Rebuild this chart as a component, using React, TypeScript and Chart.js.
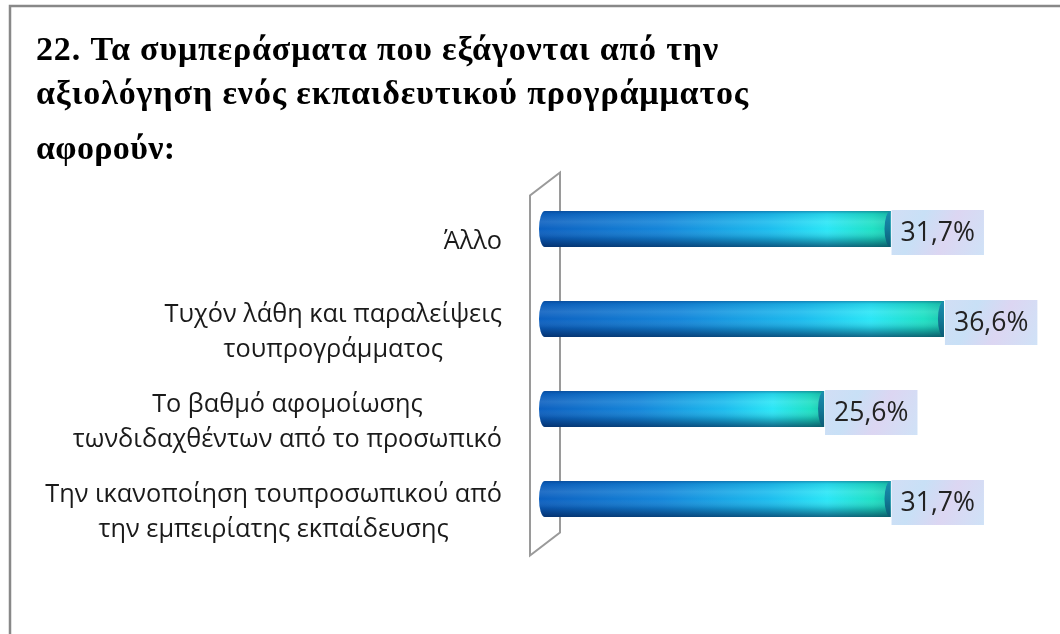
import React, { useEffect, useRef } from 'react';
import { Chart, registerables } from 'chart.js';

Chart.register(...registerables);

const TITLE_LINES = [
  '22. Τα συμπεράσματα που εξάγονται από την',
  'αξιολόγηση ενός εκπαιδευτικού προγράμματος',
  'αφορούν:',
];
const CATEGORIES = [
  ['Άλλο'],
  ['Τυχόν λάθη και παραλείψεις', 'τουπρογράμματος'],
  ['Το βαθμό αφομοίωσης', 'τωνδιδαχθέντων από το προσωπικό'],
  ['Την ικανοποίηση τουπροσωπικού από', 'την εμπειρίατης εκπαίδευσης'],
];
const VALUES = [31.7, 36.6, 25.6, 31.7];
const X_MAX = 40;

const fmt = (v: number) => v.toFixed(1).replace('.', ',') + '%';

const LABEL_FONT = '"Open Sans", "Noto Sans", sans-serif';
const TITLE_FONT = '"Liberation Serif", "DejaVu Serif", serif';

function fitText(ctx: CanvasRenderingContext2D, text: string, x: number, y: number, target: number) {
  (ctx as any).letterSpacing = '0px';
  const w = ctx.measureText(text).width;
  const n = Array.from(text).length;
  const ls = n > 1 ? (target - w) / (n - 1) : 0;
  (ctx as any).letterSpacing = ls.toFixed(2) + 'px';
  ctx.fillText(text, x, y);
  (ctx as any).letterSpacing = '0px';
}

function drawCylinder(ctx: CanvasRenderingContext2D, x0: number, x1: number, yc: number, h: number) {
  const top = yc - h / 2;
  const bot = yc + h / 2;
  const rx = 6;
  ctx.save();
  ctx.beginPath();
  ctx.moveTo(x1, top);
  ctx.lineTo(x0, top);
  ctx.ellipse(x0, yc, rx, h / 2, 0, -Math.PI / 2, Math.PI / 2, true);
  ctx.lineTo(x1, bot);
  ctx.closePath();
  const g = ctx.createLinearGradient(x0 - rx, 0, x1, 0);
  g.addColorStop(0, '#0c60c0');
  g.addColorStop(0.35, '#1486da');
  g.addColorStop(0.65, '#1cbcee');
  g.addColorStop(0.82, '#2ae6f6');
  g.addColorStop(0.95, '#1fe0c4');
  g.addColorStop(1, '#1cc8b0');
  ctx.fillStyle = g;
  ctx.fill();
  ctx.clip();
  const v = ctx.createLinearGradient(0, top, 0, bot);
  v.addColorStop(0, 'rgba(0,40,100,0.4)');
  v.addColorStop(0.08, 'rgba(0,40,100,0.1)');
  v.addColorStop(0.3, 'rgba(255,255,255,0.1)');
  v.addColorStop(0.5, 'rgba(255,255,255,0)');
  v.addColorStop(0.75, 'rgba(0,20,60,0.18)');
  v.addColorStop(1, 'rgba(0,20,60,0.6)');
  ctx.fillStyle = v;
  ctx.fillRect(x0 - rx - 1, top, x1 - x0 + rx + 2, h);
  ctx.beginPath();
  ctx.ellipse(x1, yc, rx, h / 2, 0, 0, Math.PI * 2);
  const eg = ctx.createLinearGradient(0, top, 0, bot);
  eg.addColorStop(0, '#1a8fb0');
  eg.addColorStop(0.5, '#127a98');
  eg.addColorStop(1, '#0b5a74');
  ctx.fillStyle = eg;
  ctx.fill();
  ctx.restore();
}

const decorPlugin = {
  id: 'decor',
  beforeDraw(chart: any) {
    const ctx: CanvasRenderingContext2D = chart.ctx;
    ctx.save();
    ctx.fillStyle = '#ffffff';
    ctx.fillRect(0, 0, chart.width, chart.height);
    ctx.strokeStyle = '#888888';
    ctx.lineWidth = 2.5;
    ctx.beginPath();
    ctx.moveTo(10, chart.height + 5);
    ctx.lineTo(10, 6);
    ctx.lineTo(chart.width + 5, 6);
    ctx.stroke();
    ctx.fillStyle = '#000000';
    ctx.font = `bold 34px ${TITLE_FONT}`;
    ctx.textBaseline = 'alphabetic';
    ctx.textAlign = 'left';
    const baselines = [60, 104, 159];
    const widths = [682, 712, 139];
    TITLE_LINES.forEach((t, i) => fitText(ctx, t, 36, baselines[i], widths[i]));
    ctx.restore();
  },
  beforeDatasetsDraw(chart: any) {
    const ctx: CanvasRenderingContext2D = chart.ctx;
    const xs = chart.scales.x;
    const area = chart.chartArea;
    const x0 = xs.getPixelForValue(0);
    const dx = 15;
    const dy = 11.5;
    ctx.save();
    ctx.strokeStyle = '#9a9a9a';
    ctx.lineWidth = 2;
    ctx.beginPath();
    ctx.moveTo(x0 - dx, area.top + dy);
    ctx.lineTo(x0 - dx, area.bottom + dy);
    ctx.lineTo(x0 + dx, area.bottom - dy);
    ctx.lineTo(x0 + dx, area.top - dy);
    ctx.closePath();
    ctx.stroke();
    ctx.restore();
  },
  afterDatasetsDraw(chart: any) {
    const ctx: CanvasRenderingContext2D = chart.ctx;
    const meta = chart.getDatasetMeta(0);
    const ys = chart.scales.y;
    ctx.save();
    ctx.font = `24px ${LABEL_FONT}`;
    const ref = ctx.measureText(CATEGORIES[3][0]).width;
    const size = (24 * 457) / ref;
    ctx.font = `${size.toFixed(2)}px ${LABEL_FONT}`;
    ctx.fillStyle = '#1a1a1a';
    ctx.textAlign = 'center';
    ctx.textBaseline = 'middle';
    const rightEdge = 502;
    const lh = 35;
    CATEGORIES.forEach((lines, i) => {
      const yc = ys.getPixelForValue(i) + 13;
      const bw = Math.max(...lines.map((l) => ctx.measureText(l).width));
      const cx = rightEdge - bw / 2;
      lines.forEach((l, j) => {
        const y = yc + (j - (lines.length - 1) / 2) * lh;
        ctx.fillText(l, cx, y);
      });
    });
    meta.data.forEach((el: any, i: number) => {
      const p = el.getProps(['x', 'y', 'base', 'height'], true);
      drawCylinder(ctx, p.base, p.x, p.y, p.height);
      const txt = fmt(VALUES[i]);
      ctx.font = `${(size * 1.05).toFixed(2)}px ${LABEL_FONT}`;
      const tw = ctx.measureText(txt).width;
      const bx = p.x + 1;
      const by = p.y - p.height / 2 - 1;
      const bw = tw + 18;
      const bh = 45;
      const g = ctx.createLinearGradient(bx, by, bx + bw, by + bh);
      g.addColorStop(0, '#d2def5');
      g.addColorStop(0.3, '#c8e0f6');
      g.addColorStop(0.6, '#dcd6f2');
      g.addColorStop(1, '#cfe2f7');
      ctx.fillStyle = g;
      ctx.fillRect(bx, by, bw, bh);
      ctx.fillStyle = '#222222';
      ctx.textAlign = 'center';
      ctx.textBaseline = 'middle';
      ctx.fillText(txt, bx + bw / 2, by + bh / 2 + 1);
    });
    ctx.restore();
  },
};

export default function App() {
  const ref = useRef<HTMLCanvasElement | null>(null);
  useEffect(() => {
    if (!ref.current) return;
    const chart = new Chart(ref.current, {
      type: 'bar',
      data: {
        labels: CATEGORIES,
        datasets: [
          {
            data: VALUES,
            backgroundColor: '#1a8fd8',
            borderWidth: 0,
            barPercentage: 0.4,
            categoryPercentage: 1,
          },
        ],
      },
      options: {
        indexAxis: 'y',
        responsive: false,
        animation: false,
        layout: { padding: { left: 545, right: 79, top: 184, bottom: 90 } },
        scales: {
          x: { display: false, min: 0, max: X_MAX },
          y: { display: false },
        },
        plugins: {
          legend: { display: false },
          tooltip: { enabled: false },
          title: { display: false },
        },
      },
      plugins: [decorPlugin as any],
    });
    return () => chart.destroy();
  }, []);
  return (
    <div style={{ position: 'fixed', left: 0, top: 0, width: 1060, height: 634, background: '#fff' }}>
      <canvas ref={ref} width={1060} height={634} style={{ width: 1060, height: 634, display: 'block' }} />
    </div>
  );
}
